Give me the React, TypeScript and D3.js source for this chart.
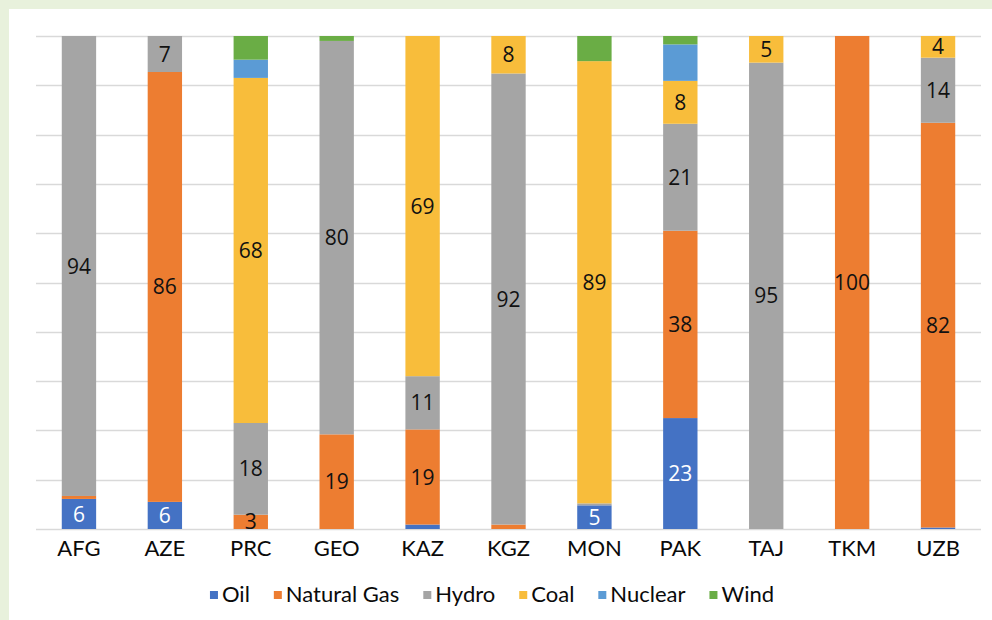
import React, { useEffect, useRef } from "react";
import * as d3 from "d3";

const countries = ["AFG", "AZE", "PRC", "GEO", "KAZ", "KGZ", "MON", "PAK", "TAJ", "TKM", "UZB"];

const seriesNames = ["Oil", "Natural Gas", "Hydro", "Coal", "Nuclear", "Wind"];
const seriesColors = ["#4472c4", "#ed7d31", "#a5a5a5", "#f8bd3b", "#5b9bd5", "#6aad45"];

// measured segment heights (% of total)
const oil = [6.1, 5.5, 0, 0, 0.9, 0, 4.8, 22.5, 0, 0, 0.3];
const naturalGas = [0.6, 87.2, 2.9, 19.2, 19.3, 0.9, 0, 38, 0, 100, 82.1];
const hydro = [93.3, 7.3, 18.6, 79.8, 10.8, 91.5, 0.4, 21.7, 94.6, 0, 13.2];
const coal = [0, 0, 70, 0, 69, 7.6, 89.7, 8.7, 5.4, 0, 4.4];
const nuclear = [0, 0, 3.7, 0, 0, 0, 0, 7.4, 0, 0, 0];
const wind = [0, 0, 4.8, 1.0, 0, 0, 5.1, 1.7, 0, 0, 0];

// data labels as printed on the chart
const oilLabels = [6, 6, null, null, null, null, 5, 23, null, null, null];
const gasLabels = [null, 86, 3, 19, 19, null, null, 38, null, 100, 82];
const hydroLabels = [94, 7, 18, 80, 11, 92, null, 21, 95, null, 14];
const coalLabels = [null, null, 68, null, 69, 8, 89, 8, 5, null, 4];
const nuclearLabels = [null, null, null, null, null, null, null, null, null, null, null];
const windLabels = [null, null, null, null, null, null, null, null, null, null, null];

const yTicks = [0, 10, 20, 30, 40, 50, 60, 70, 80, 90, 100];

const W = 992;
const H = 620;

export default function App() {
  const ref = useRef<SVGSVGElement | null>(null);

  useEffect(() => {
    const svg = d3.select(ref.current);
    svg.selectAll("*").remove();

    const values = [oil, naturalGas, hydro, coal, nuclear, wind];
    const labels = [oilLabels, gasLabels, hydroLabels, coalLabels, nuclearLabels, windLabels];

    const rows = countries.map((c, i) => {
      const r: any = { country: c };
      seriesNames.forEach((s, k) => (r[s] = values[k][i]));
      return r;
    });

    const stack = d3.stack<any>().keys(seriesNames);
    const stacked = stack(rows);

    const x = d3.scaleBand<string>().domain(countries).range([36, 981]).paddingInner(0.6).paddingOuter(0.3);
    const y = d3.scaleLinear().domain([0, 100]).range([529, 36]);

    // background
    svg.append("rect").attr("x", 0).attr("y", 0).attr("width", W).attr("height", H).attr("fill", "#e8f1dc");
    svg.append("rect").attr("x", 9).attr("y", 9).attr("width", W - 9).attr("height", H - 9).attr("fill", "#ffffff");

    // gridlines
    svg
      .append("g")
      .selectAll("line")
      .data(yTicks)
      .join("line")
      .attr("x1", 36)
      .attr("x2", 981)
      .attr("y1", (d) => Math.round(y(d)) + 0.5)
      .attr("y2", (d) => Math.round(y(d)) + 0.5)
      .attr("stroke", "#d9d9d9")
      .attr("stroke-width", 1.3);

    // bars
    const g = svg.append("g");
    stacked.forEach((layer, k) => {
      g.append("g")
        .attr("fill", seriesColors[k])
        .selectAll("rect")
        .data(layer)
        .join("rect")
        .attr("x", (d: any) => x(d.data.country)!)
        .attr("width", x.bandwidth())
        .attr("y", (d: any) => y(d[1]))
        .attr("height", (d: any) => Math.max(0, y(d[0]) - y(d[1])));
    });

    // data labels
    const lg = svg.append("g").attr("font-family", "'Open Sans', sans-serif").attr("font-size", 21).attr("text-anchor", "middle");
    stacked.forEach((layer, k) => {
      layer.forEach((d: any, i: number) => {
        const lab = labels[k][i];
        if (lab === null) return;
        lg.append("text")
          .attr("x", x(d.data.country)! + x.bandwidth() / 2)
          .attr("y", (y(d[0]) + y(d[1])) / 2)
          .attr("dy", "0.36em")
          .attr("fill", k === 0 ? "#ffffff" : "#111111")
          .text(String(lab));
      });
    });

    // x axis labels
    const xAxis = d3.axisBottom(x).tickSize(0).tickPadding(0);
    const ax = svg.append("g").attr("transform", "translate(0,529)").call(xAxis);
    ax.select(".domain").remove();
    ax.selectAll("text")
      .attr("font-family", "Lato, sans-serif")
      .attr("font-size", 22)
      .attr("fill", "#0a0a0a")
      .attr("dy", null)
      .attr("y", 27);

    // legend
    const leg = svg.append("g").attr("font-family", "Lato, sans-serif").attr("font-size", 22);
    const items = seriesNames.map((name, k) => {
      const gi = leg.append("g");
      gi.append("rect").attr("width", 8).attr("height", 8).attr("y", -11).attr("fill", seriesColors[k]);
      const t = gi.append("text").attr("x", 12).attr("y", 0).attr("fill", "#0a0a0a").text(name);
      const w = 12 + (t.node() as SVGTextElement).getComputedTextLength();
      return { gi, w };
    });
    const gap = 24;
    const total = d3.sum(items, (d) => d.w) + gap * (items.length - 1);
    let cx = 492 - total / 2;
    items.forEach((it) => {
      it.gi.attr("transform", `translate(${cx},602)`);
      cx += it.w + gap;
    });
  }, []);

  return (
    <svg
      ref={ref}
      width={W}
      height={H}
      style={{ position: "absolute", left: 0, top: 0, display: "block" }}
    />
  );
}
